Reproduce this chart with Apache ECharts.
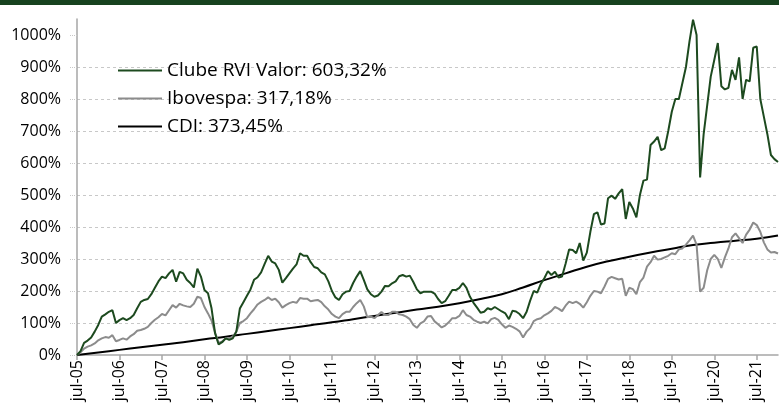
<!DOCTYPE html>
<html>
<head>
<meta charset="utf-8">
<script src="https://cdn.jsdelivr.net/npm/echarts@6/dist/echarts.min.js"></script>
<style>
  html, body { margin: 0; padding: 0; background: #fff; }
  #main { width: 779px; height: 412px; }
</style>
</head>
<body>
<div id="main"></div>
<script>
// months since jul-05, one point per month
var rvi = [0,12,38,45,55,73,94,120,127,135,140,100,109,115,109,115,125,146,166,172,175,190,210,230,245,240,255,266,229,260,255,235,225,211,270,245,
  203,193,146,68,33,40,52,47,52,73,145,165,185,205,235,243,258,285,310,292,286,266,226,240,255,270,283,318,310,310,290,275,271,258,252,230,
  200,180,172,190,198,200,225,245,262,235,205,190,182,186,198,216,215,224,230,246,250,245,248,228,205,193,198,198,198,192,175,162,168,185,203,203,
  210,225,210,182,163,148,132,135,146,142,150,143,136,130,112,138,136,128,115,135,170,200,195,222,240,262,250,260,242,245,285,330,328,318,350,295,
  320,385,440,446,408,411,490,498,488,505,518,425,478,458,430,500,545,548,656,667,682,640,646,700,760,800,800,850,900,980,1048,1000,555,690,780,870,
  922,975,840,830,835,891,860,930,800,860,855,960,964,800,745,690,625,612,603.32];

var ibov = [0,8,20,26,30,36,46,52,56,54,62,43,47,52,48,58,65,76,78,82,88,100,110,118,128,124,140,156,148,160,155,152,150,160,182,178,
  150,130,108,70,38,42,52,52,57,73,100,106,115,130,143,158,166,172,180,172,176,165,148,156,162,166,163,178,176,176,168,170,172,165,152,142,
  128,120,115,128,135,135,150,162,172,152,118,120,115,125,134,125,125,135,135,127,125,120,112,94,85,99,105,120,122,105,96,86,92,102,115,115,
  122,140,125,120,110,104,100,104,99,112,116,110,96,85,92,88,82,74,55,73,84,106,112,115,124,130,138,150,145,137,154,167,162,167,160,148,
  165,185,200,198,193,214,238,244,240,236,238,185,210,206,190,228,242,276,290,310,298,300,305,310,318,315,330,333,345,358,373,345,198,210,265,300,
  313,300,272,305,333,368,380,365,350,376,392,414,406,385,352,330,320,322,317.18];

// CDI read every six months
var cdiMonths = [0,6,12,18,24,30,36,42,48,54,60,66,72,78,84,90,96,102,108,114,120,126,132,138,144,150,156,162,168,174,180,186,192,198];
var cdiValues = [0,8,16,24,32,40,49,57,66,75,84,93,102,112,122,132,142,151,162,175,190,211,234,255,276,293,307,320,332,344,351,357,363,373.45];

var seriesNames = ['Clube RVI Valor: 603,32%', 'Ibovespa: 317,18%', 'CDI: 373,45%'];
var yTicks = [0,100,200,300,400,500,600,700,800,900,1000];
var xTicks = [0,12,24,36,48,60,72,84,96,108,120,132,144,156,168,180,192];

function pairs(xs, ys) {
  return ys.map(function (v, i) { return [xs ? xs[i] : i, v]; });
}

var chart = echarts.init(document.getElementById('main'));

var option = {
  animation: false,
  textStyle: { fontFamily: 'Open Sans' },
  graphic: [{
    type: 'rect', left: 0, top: 0,
    shape: { width: 779, height: 5 },
    style: { fill: '#17421f' }
  }],
  legend: {
    data: seriesNames,
    orient: 'vertical',
    left: 113,
    top: 56,
    itemGap: 9,
    itemWidth: 44,
    itemHeight: 2,
    icon: 'rect',
    textStyle: { fontSize: 19, color: '#000', fontFamily: 'Open Sans' }
  },
  grid: { left: 77, right: 1, top: 19, bottom: 57, containLabel: false },
  xAxis: {
    type: 'value',
    min: 0, max: 198, interval: 12,
    axisLine: { lineStyle: { color: '#a6a6a6', width: 1.5 } },
    axisTick: { length: 5, customValues: xTicks, lineStyle: { color: '#a6a6a6', width: 1.5 } },
    axisLabel: {
      customValues: xTicks,
      rotate: 90, margin: 5, fontSize: 16, color: '#000',
      formatter: function (m) {
        if (m % 12 !== 0 || m > 192) return '';
        var y = 5 + m / 12;
        return 'jul-' + (y < 10 ? '0' + y : y);
      }
    },
    splitLine: { show: false }
  },
  yAxis: {
    type: 'value',
    min: 0, max: 1050, interval: 100,
    axisLine: { show: true, lineStyle: { color: '#a6a6a6', width: 1.5 } },
    axisTick: { show: true, length: 8, customValues: yTicks, lineStyle: { color: '#c8c8c8', type: 'dotted' } },
    axisLabel: {
      customValues: yTicks,
      margin: 16, fontSize: 16, color: '#000',
      formatter: function (v) { return v % 100 === 0 && v <= 1000 ? v + '%' : ''; }
    },
    splitLine: {
      show: true, showMinLine: false, showMaxLine: false,
      lineStyle: { color: '#c8c8c8', type: [3, 3], width: 1 }
    }
  },
  series: [
    {
      name: seriesNames[2], type: 'line', showSymbol: false, smooth: true,
      data: pairs(cdiMonths, cdiValues),
      lineStyle: { color: '#000', width: 2 }, itemStyle: { color: '#000' }
    },
    {
      name: seriesNames[1], type: 'line', showSymbol: false,
      data: pairs(null, ibov),
      lineStyle: { color: '#8c8c8c', width: 2 }, itemStyle: { color: '#8c8c8c' }
    },
    {
      name: seriesNames[0], type: 'line', showSymbol: false,
      data: pairs(null, rvi),
      lineStyle: { color: '#1d4a1f', width: 2 }, itemStyle: { color: '#1d4a1f' }
    }
  ]
};

chart.setOption(option);
</script>
</body>
</html>
